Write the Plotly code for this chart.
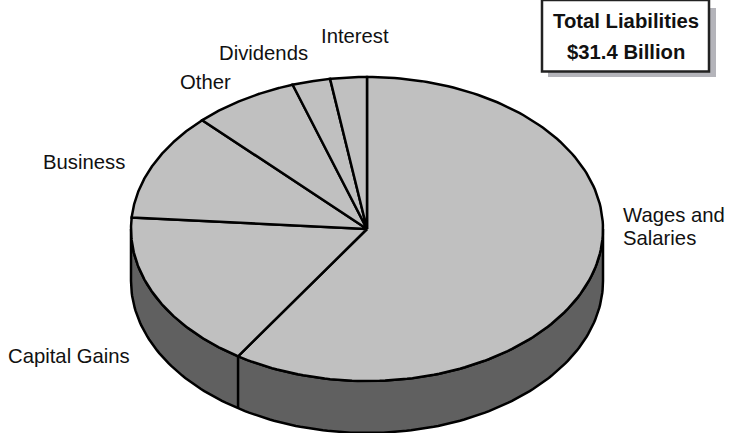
import numpy as np
import plotly.graph_objects as go

categories = ["Wages and Salaries", "Capital Gains", "Business", "Other", "Dividends", "Interest"]
shares = [59.2, 17.0, 11.5, 7.2, 2.6, 2.5]
label_text = ["Wages and", "Salaries", "Capital Gains", "Business", "Other", "Dividends", "Interest"]
label_x = [623, 623, 8, 43, 180, 219, 321]
label_y = [215, 238, 356, 162, 82, 53, 36]
box_lines = ["<b>Total Liabilities</b>", "<b>$31.4 Billion</b>"]
box_y = [21, 52]

CX, CY, RX, RY, DEPTH = 367, 229, 236, 152, 52
TOP, SIDE, INK = "#C0C0C0", "#606060", "#000000"
W, H = 730, 433
FONT = dict(family="Liberation Sans, Arial", size=20.3, color="#111")


def rim(a0, a1, n=160):
    t = np.radians(np.linspace(a0, a1, n))
    return CX + RX * np.sin(t), CY - RY * np.cos(t)


fig = go.Figure()
edges = np.concatenate([[0], np.cumsum(shares)]) / sum(shares) * 360

x, y = rim(90, 270)
fig.add_trace(go.Scatter(
    x=np.concatenate([x, x[::-1], x[:1]]),
    y=np.concatenate([y, y[::-1] + DEPTH, y[:1]]),
    mode="lines", fill="toself", fillcolor=SIDE,
    line=dict(color=INK, width=2.5), hoverinfo="skip", showlegend=False))

for a in edges[1:-1]:
    if 90 < a < 270:
        sx, sy = rim(a, a, 1)
        fig.add_trace(go.Scatter(
            x=[sx[0], sx[0]], y=[sy[0], sy[0] + DEPTH], mode="lines",
            line=dict(color=INK, width=2.5), hoverinfo="skip", showlegend=False))

for name, share, a0, a1 in zip(categories, shares, edges[:-1], edges[1:]):
    x, y = rim(a0, a1)
    fig.add_trace(go.Scatter(
        x=np.concatenate([[CX], x, [CX]]),
        y=np.concatenate([[CY], y, [CY]]),
        mode="lines", fill="toself", fillcolor=TOP,
        line=dict(color=INK, width=2.5), name=name,
        text=f"{name}: {share}%", hoveron="fills", hoverinfo="text", showlegend=False))

for t, lx, ly in zip(label_text, label_x, label_y):
    fig.add_annotation(x=lx, y=ly, text=t, showarrow=False, xanchor="left", yanchor="middle",
                       align="left", xshift=-2, font=FONT)

fig.add_shape(type="rect", x0=548, x1=716, y0=8, y1=77, fillcolor="#B4B4BA", line=dict(width=0), layer="below")
fig.add_shape(type="rect", x0=542, x1=709, y0=0, y1=71.5, fillcolor="#FFFFFF",
              line=dict(color="#222", width=2.5), layer="below")
for t, by in zip(box_lines, box_y):
    fig.add_annotation(x=626, y=by, text=t, showarrow=False, align="center", font=FONT)

fig.update_layout(
    width=W, height=H, margin=dict(l=0, r=0, t=0, b=0),
    paper_bgcolor="white", plot_bgcolor="white",
    xaxis=dict(range=[0, W], visible=False, fixedrange=True),
    yaxis=dict(range=[H, 0], visible=False, fixedrange=True),
)
fig.write_html("out.html", config={"displayModeBar": False},
               post_script="document.body.style.margin='0';document.body.style.overflow='hidden';")
